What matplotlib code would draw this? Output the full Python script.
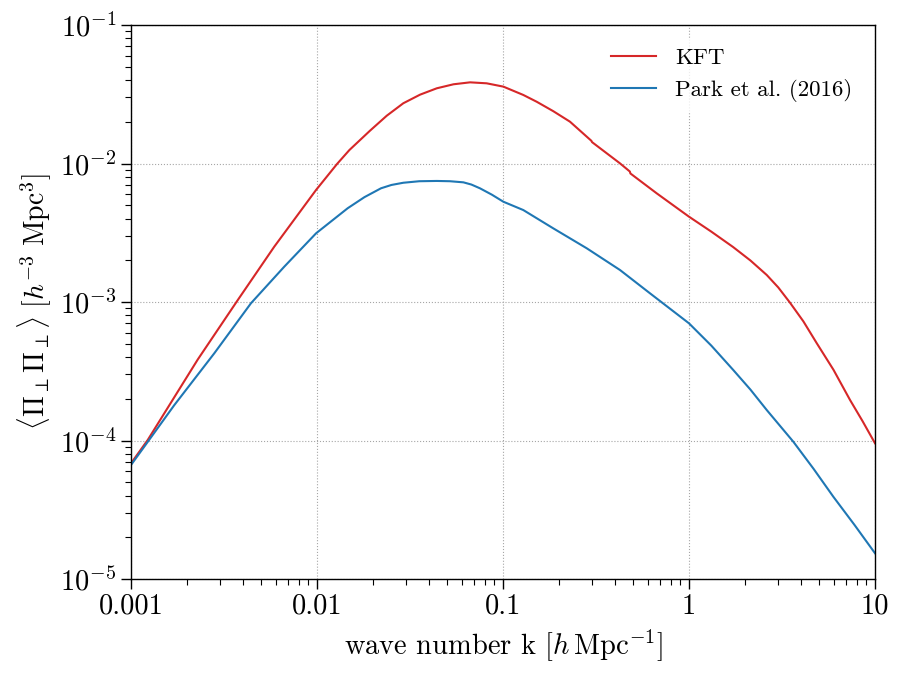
import matplotlib
matplotlib.use("Agg")
import matplotlib.pyplot as plt
import matplotlib.ticker as mticker
import numpy as np

plt.rcParams['font.family'] = 'serif'
plt.rcParams['font.serif'] = ['cmr10', 'DejaVu Serif']
plt.rcParams['mathtext.fontset'] = 'cm'
plt.rcParams['axes.formatter.use_mathtext'] = True

# --- data (log10 of k and of the power spectrum) ---
logk_kft = [-3.000, -2.910, -2.641, -2.426, -2.230, -2.005, -1.892, -1.826, -1.715,
            -1.625, -1.536, -1.446, -1.356, -1.266, -1.177, -1.088, -0.998, -0.891,
            -0.819, -0.730, -0.640, -0.525, -0.521, -0.371, -0.318, -0.315, -0.174,
            0.000, 0.120, 0.237, 0.330, 0.418, 0.480, 0.543, 0.615, 0.687, 0.777,
            0.866, 0.933, 1.000]
logp_kft = [-4.165, -3.996, -3.415, -2.986, -2.601, -2.191, -2.003, -1.903, -1.763,
            -1.655, -1.565, -1.503, -1.457, -1.428, -1.414, -1.421, -1.445, -1.505,
            -1.554, -1.622, -1.698, -1.836, -1.846, -1.999, -2.058, -2.072, -2.215,
            -2.384, -2.492, -2.603, -2.700, -2.805, -2.895, -3.005, -3.140, -3.298,
            -3.490, -3.708, -3.860, -4.020]

logk_park = [-3.000, -2.767, -2.552, -2.355, -2.176, -2.005, -1.835, -1.745, -1.656,
             -1.600, -1.536, -1.450, -1.356, -1.285, -1.213, -1.170, -1.124, -1.060,
             -0.998, -0.891, -0.730, -0.550, -0.371, -0.210, 0.000, 0.120, 0.238,
             0.330, 0.418, 0.561, 0.670, 0.776, 0.890, 1.000]
logp_park = [-4.177, -3.744, -3.370, -3.009, -2.745, -2.504, -2.323, -2.243, -2.179,
             -2.155, -2.139, -2.128, -2.126, -2.128, -2.136, -2.152, -2.179, -2.225,
             -2.276, -2.336, -2.468, -2.612, -2.769, -2.937, -3.154, -3.315, -3.491,
             -3.632, -3.780, -4.009, -4.205, -4.406, -4.610, -4.814]

series_labels = ['KFT', 'Park et al. (2016)']
series_colors = ['#d62728', '#1f77b4']
xtick_vals = [0.001, 0.01, 0.1, 1, 10]
xtick_labels = ['0.001', '0.01', '0.1', '1', '10']

fig = plt.figure(figsize=(9.06, 6.81), dpi=100)
ax = fig.add_axes([131/906, 1 - 579/681, (875 - 131)/906, (579 - 25)/681])

ax.plot(10 ** np.array(logk_kft), 10 ** np.array(logp_kft), color=series_colors[0],
        lw=1.5, label=series_labels[0])
ax.plot(10 ** np.array(logk_park), 10 ** np.array(logp_park), color=series_colors[1],
        lw=1.5, label=series_labels[1])

ax.set_xscale('log')
ax.set_yscale('log')
ax.set_xlim(1e-3, 10)
ax.set_ylim(1e-5, 1e-1)

ax.set_xticks(xtick_vals)
ax.set_xticklabels(xtick_labels)
ax.tick_params(axis='both', which='major', labelsize=20.5, length=7, width=1.0, direction='out')
ax.tick_params(axis='both', which='minor', length=4, width=0.8, direction='out')
ax.xaxis.set_minor_formatter(mticker.NullFormatter())
ax.yaxis.set_minor_formatter(mticker.NullFormatter())

for s in ax.spines.values():
    s.set_linewidth(1.0)

ax.grid(True, which='major', linestyle=':', color='0.65', linewidth=0.8)

ax.set_xlabel(r'wave number k $[h\,\mathrm{Mpc}^{-1}]$', fontsize=20.5, labelpad=6)
ax.set_ylabel(r'$\langle \Pi_\perp \Pi_\perp \rangle\ [h^{-3}\ \mathrm{Mpc}^3]$',
              fontsize=20, labelpad=4)

leg = ax.legend(loc='upper right', fontsize=16.5, frameon=True, framealpha=0.8,
                edgecolor='white', fancybox=False, borderaxespad=0.6)

fig.savefig('out.png', dpi=100)
